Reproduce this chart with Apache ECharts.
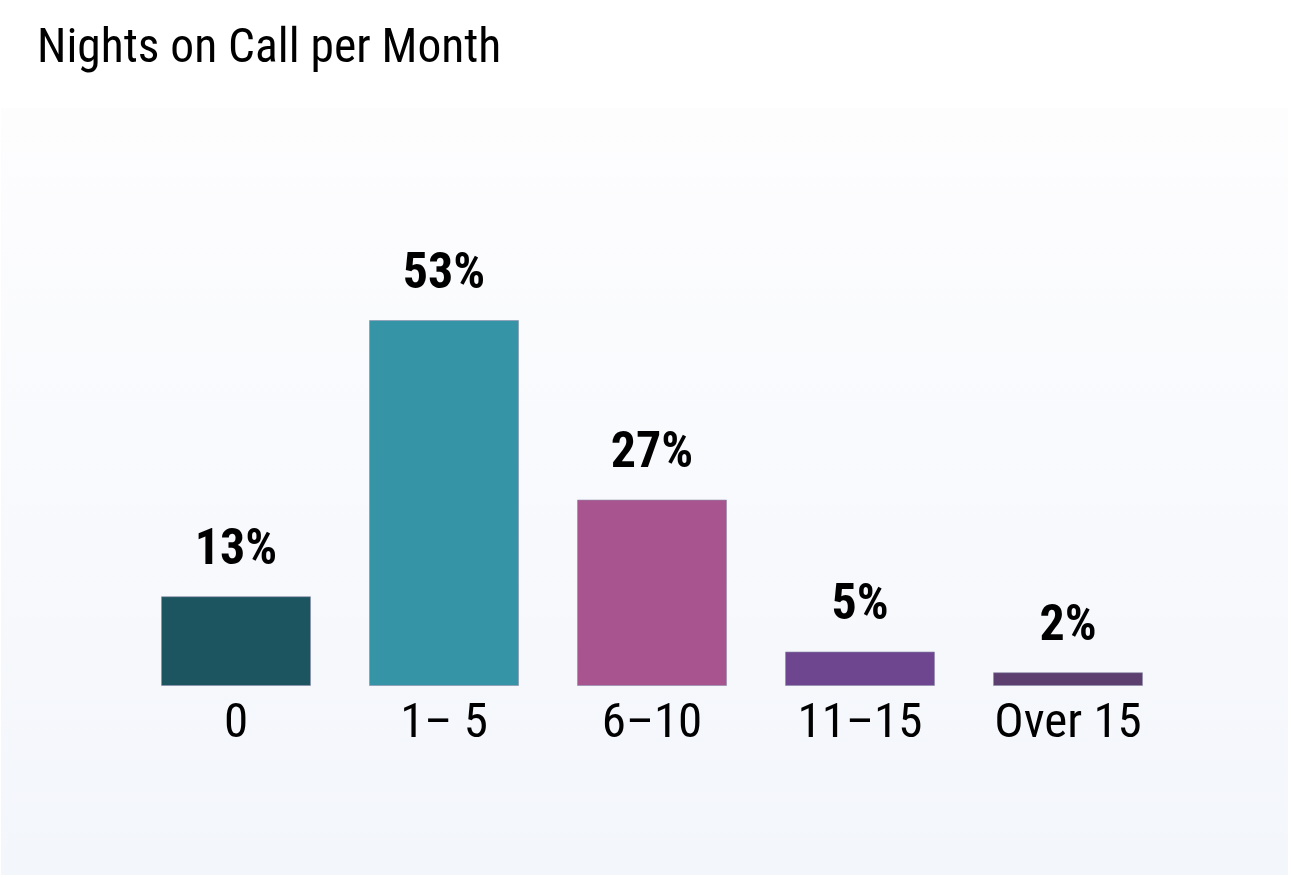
<!DOCTYPE html>
<html>
<head>
<meta charset="utf-8">
<style>
  html, body { margin: 0; padding: 0; background: #fff; }
  #chart { width: 1291px; height: 878px; }
</style>
<script src="https://cdn.jsdelivr.net/npm/echarts@6/dist/echarts.min.js"></script>
</head>
<body>
<div id="chart"></div>
<script>
var categories = ['0', '1\u2013 5', '6\u201310', '11\u201315', 'Over 15'];
var percents = [13, 53, 27, 5, 2];
var barColors = ['#1c5560', '#3594a6', '#a8558f', '#6e4690', '#5c3f6f'];

var condensed = '"Roboto Condensed", "Liberation Sans Narrow", "DejaVu Sans Condensed", Roboto, sans-serif';

var myChart = echarts.init(document.getElementById('chart'));

var option = {
    backgroundColor: '#ffffff',
    title: {
        text: 'Nights on Call per Month',
        left: 32,
        top: 21,
        textStyle: {
            fontFamily: condensed,
            fontWeight: 'normal',
            fontSize: 47.5,
            color: '#000'
        }
    },
    // panel behind the plot
    graphic: [{
        type: 'rect',
        z: -10,
        shape: { x: 1, y: 108, width: 1287, height: 767 },
        style: {
            fill: new echarts.graphic.LinearGradient(0, 0, 0, 1, [
                { offset: 0, color: '#fdfdfe' },
                { offset: 1, color: '#f3f6fb' }
            ])
        }
    }],
    grid: {
        left: 132,
        right: 119,
        top: 320,
        bottom: 192
    },
    xAxis: {
        type: 'category',
        data: categories,
        axisLine: { show: false },
        axisTick: { show: false },
        axisLabel: {
            margin: 14,
            fontFamily: condensed,
            fontSize: 49,
            color: '#000'
        }
    },
    yAxis: {
        type: 'value',
        min: 0,
        max: 53,
        show: false,
        splitLine: { show: false }
    },
    series: [{
        type: 'bar',
        barWidth: 150,
        data: percents.map(function (v, i) {
            return { value: v, itemStyle: { color: barColors[i] } };
        }),
        itemStyle: {
            borderColor: 'rgba(140,140,170,0.6)',
            borderWidth: 1
        },
        label: {
            show: true,
            position: 'top',
            distance: 20,
            formatter: '{c}%',
            fontFamily: condensed,
            fontWeight: 'bold',
            fontSize: 50,
            color: '#000'
        }
    }]
};
myChart.setOption(option);
</script>
</body>
</html>
